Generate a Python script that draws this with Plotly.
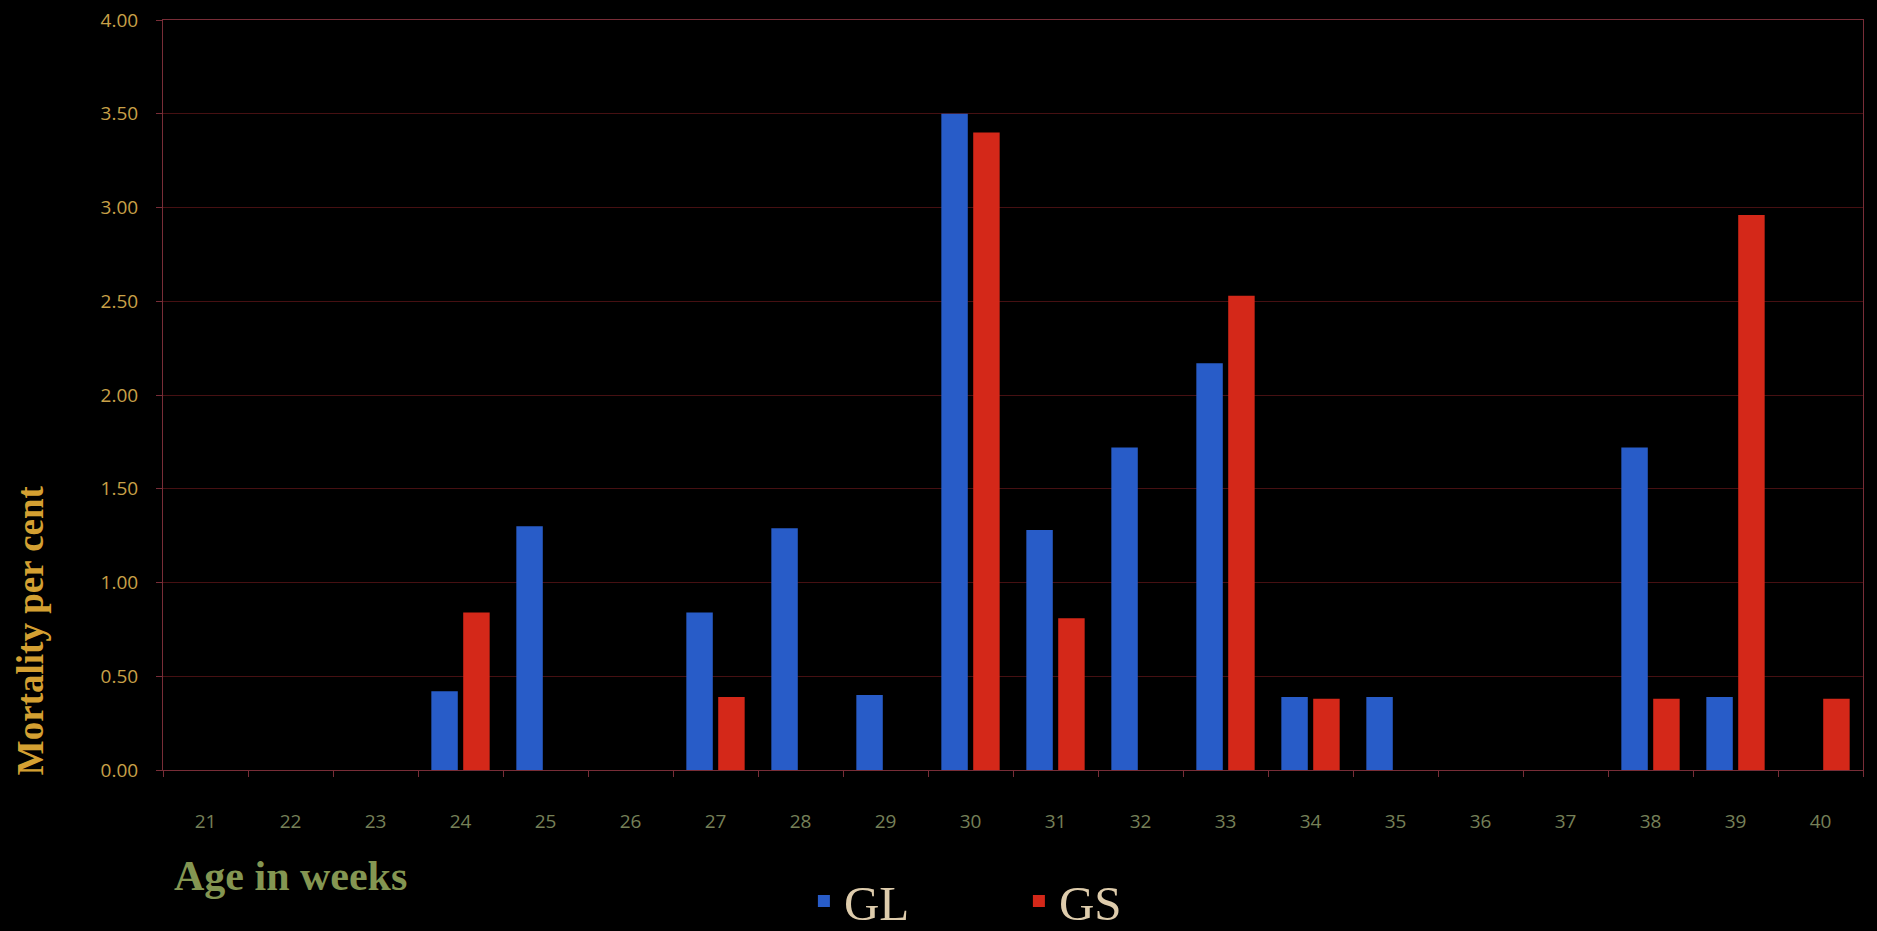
import plotly.graph_objects as go

weeks = [str(w) for w in range(21, 41)]
gl = [0, 0, 0, 0.42, 1.30, 0, 0.84, 1.29, 0.40, 3.50, 1.28, 1.72, 2.17, 0.39, 0.39, 0, 0, 1.72, 0.39, 0]
gs = [0, 0, 0, 0.84, 0, 0, 0.39, 0, 0, 3.40, 0.81, 0, 2.53, 0.38, 0, 0, 0, 0.38, 2.96, 0.38]
y_ticks = [0, 0.5, 1.0, 1.5, 2.0, 2.5, 3.0, 3.5, 4.0]

fig = go.Figure()
fig.add_trace(go.Bar(name="GL", x=weeks, y=gl, marker=dict(color="rgb(40,92,200)", line=dict(width=0))))
fig.add_trace(go.Bar(name="GS", x=weeks, y=gs, marker=dict(color="rgb(212,40,25)", line=dict(width=0))))

grid = "rgb(70,16,18)"
axl = "rgb(120,45,55)"

fig.update_layout(
    width=1877, height=931,
    paper_bgcolor="black", plot_bgcolor="black",
    margin=dict(l=163, r=14, t=20, b=161, autoexpand=False),
    barmode="group", bargap=0.25, bargroupgap=0.17,
    showlegend=True,
    legend=dict(orientation="h", x=0.377, xanchor="left", yref="container", y=0.032, yanchor="middle",
                font=dict(family="Liberation Serif", size=49, color="rgb(222,204,172)"),
                entrywidth=170, entrywidthmode="pixels", bgcolor="rgba(0,0,0,0)"),
    xaxis=dict(type="category", tickson="boundaries", ticks="outside", ticklen=6, tickcolor=axl,
               showline=True, linecolor=axl, linewidth=1, mirror=True, showgrid=False,
               tickfont=dict(family="Open Sans", size=19, color="rgb(118,128,88)"),
               ticklabelstandoff=34),
    yaxis=dict(range=[0, 4], tickvals=y_ticks, tickformat=".2f", ticks="outside", ticklen=6,
               tickcolor=axl, showline=True, linecolor=axl, linewidth=1, mirror=True,
               showgrid=True, gridcolor=grid, gridwidth=1, zeroline=False,
               tickfont=dict(family="Open Sans", size=19, color="rgb(200,160,72)"),
               ticklabelstandoff=14),
    annotations=[
        dict(text="<b>Mortality per cent</b>", textangle=-90, xref="paper", yref="paper",
             x=-0.078, y=0.187, xanchor="center", yanchor="middle", showarrow=False,
             font=dict(family="Liberation Serif", size=37, color="rgb(212,160,50)")),
        dict(text="<b>Age in weeks</b>", xref="paper", yref="paper",
             x=0.005, y=-0.141, xanchor="left", yanchor="middle", showarrow=False,
             font=dict(family="Liberation Serif", size=42, color="rgb(132,150,82)")),
    ],
)

fig.write_html("out.html", config={"displayModeBar": False},
               post_script="document.body.style.margin='0';document.body.style.overflow='hidden';")
